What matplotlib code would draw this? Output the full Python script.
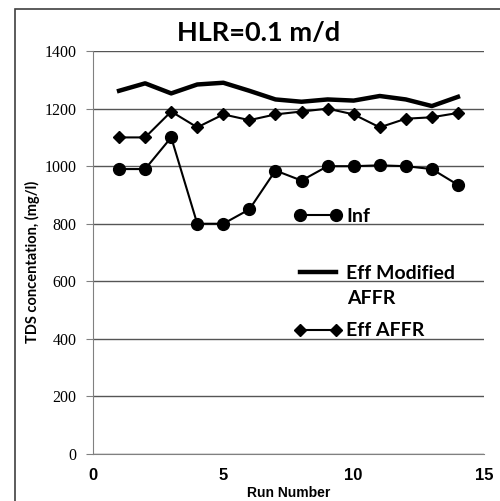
import numpy as np
import matplotlib.pyplot as plt
from matplotlib.patches import Rectangle

# Data
run = np.arange(1, 15)
inf = [990, 990, 1100, 800, 800, 850, 985, 950, 1000, 1000, 1003, 1000, 990, 935]
eff_mod = [1262, 1288, 1253, 1284, 1290, 1262, 1232, 1224, 1232, 1228, 1244, 1232, 1209, 1241]
eff_affr = [1100, 1100, 1190, 1135, 1180, 1160, 1180, 1190, 1200, 1180, 1135, 1165, 1170, 1185]

fig = plt.figure(figsize=(5, 5.01), dpi=100)
ax = fig.add_axes([0.186, 0.094, 0.782, 0.804])

# outer chart border
fig.patches.append(Rectangle((15 / 500, -0.01), 1.0, 1 - 9 / 501 + 0.01,
                             transform=fig.transFigure, fill=False,
                             edgecolor='#404040', linewidth=1.2))

l1, = ax.plot(run, inf, color='black', lw=1.5, marker='o', ms=8.5, label='Inf')
l2, = ax.plot(run, eff_mod, color='black', lw=3.2, label='Eff Modified')
l3, = ax.plot(run, eff_affr, color='black', lw=1.5, marker='D', ms=6, label='Eff AFFR')

ax.set_xlim(0, 15)
ax.set_ylim(0, 1400)
ax.set_xticks([0, 5, 10, 15])
ax.set_yticks(range(0, 1401, 200))
ax.yaxis.grid(True, color='#555555', lw=1)
ax.set_axisbelow(True)
for s in ('top', 'right'):
    ax.spines[s].set_visible(False)
for s in ('left', 'bottom'):
    ax.spines[s].set_color('#808080')
ax.tick_params(axis='x', length=0, pad=10, labelsize=12)
ax.tick_params(axis='y', length=5, color='#808080', labelsize=11.5, pad=7)
for t in ax.get_xticklabels():
    t.set_fontweight('bold')
    t.set_family('Liberation Sans')
for t in ax.get_yticklabels():
    t.set_family('Liberation Serif')

ax.set_xlabel('Run Number', fontsize=10, fontweight='bold', family='Liberation Sans',
              labelpad=2)
fig.text(0.064, 0.478, 'TDS concentation, (mg/l)', rotation=90, ha='center', va='center',
         fontsize=10.5, fontweight='bold', family='Lato')
fig.text(0.518, 0.934, 'HLR=0.1 m/d', ha='center', va='center',
         fontsize=19.5, fontweight='bold', family='Lato')

leg = ax.legend(handles=[l1, l2, l3], loc='upper left', bbox_to_anchor=(0.515, 0.61),
                frameon=False, numpoints=2, handlelength=2.45, handletextpad=0.2,
                labelspacing=2.06, borderaxespad=0, borderpad=0,
                prop={'family': 'Lato', 'weight': 'bold', 'size': 14})
# second line of the "Eff Modified AFFR" label sits under the entry
ax.text(0.65, 0.385, 'AFFR', transform=ax.transAxes, ha='left', va='center',
        fontsize=14, fontweight='bold', family='Lato')

fig.savefig('out.png', dpi=100)
